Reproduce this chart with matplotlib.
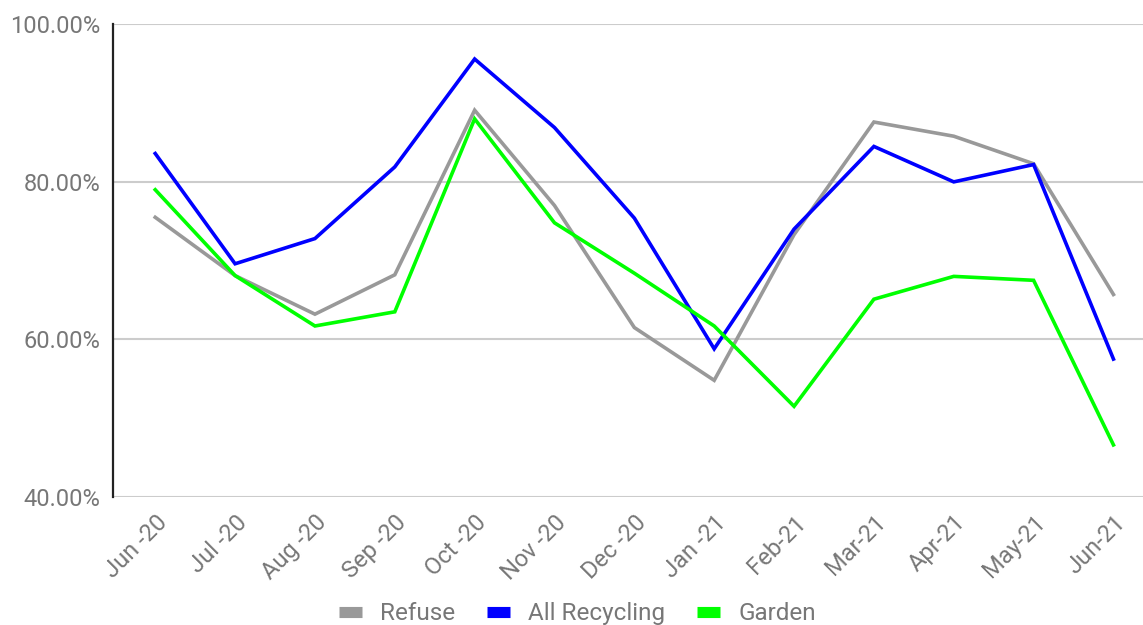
import numpy as np
import matplotlib.pyplot as plt
from matplotlib.lines import Line2D
from matplotlib.ticker import PercentFormatter

plt.rcParams['font.family'] = ['Roboto', 'DejaVu Sans']

months = ["Jun -20", "Jul -20", "Aug -20", "Sep -20", "Oct -20", "Nov -20", "Dec -20",
          "Jan -21", "Feb-21", "Mar-21", "Apr-21", "May-21", "Jun-21"]

refuse = [75.5, 68.1, 63.2, 68.2, 89.1, 77.0, 61.5, 54.8, 73.3, 87.6, 85.8, 82.3, 65.7]
all_recycling = [83.6, 69.6, 72.8, 81.9, 95.6, 86.9, 75.4, 58.8, 74.0, 84.5, 80.0, 82.2, 57.5]
garden = [79.0, 68.1, 61.7, 63.5, 88.0, 74.8, 68.4, 61.7, 51.5, 65.1, 68.0, 67.5, 46.6]

series = [("Refuse", refuse, "#999999"),
          ("All Recycling", all_recycling, "#0000ff"),
          ("Garden", garden, "#00ff00")]

fig = plt.figure(figsize=(11.43, 6.25), dpi=100)
ax = fig.add_axes([0.099, 0.205, 0.901, 0.756])

x = np.arange(len(months))
for name, vals, col in series:
    ax.plot(x, vals, color=col, lw=2.6, solid_joinstyle='miter', label=name, zorder=3)

ax.set_ylim(40, 100)
ax.set_xlim(-0.527, 12.37)
ax.set_yticks([40, 60, 80, 100])
ax.yaxis.set_major_formatter(PercentFormatter(decimals=2))
ax.grid(axis='y', color='#cccccc', lw=1.5, zorder=0)
ax.set_xticks(x)
ax.set_xticklabels(months, rotation=45, ha='right', va='top', rotation_mode='anchor')

for s in ['top', 'right', 'bottom']:
    ax.spines[s].set_visible(False)
ax.spines['left'].set_color('#222222')
ax.spines['left'].set_linewidth(1.6)
ax.tick_params(length=0, labelsize=17, labelcolor='#777777')
ax.tick_params(axis='y', pad=9)
ax.tick_params(axis='x', pad=10)

handles = [Line2D([], [], color=col, lw=8, solid_capstyle='butt') for _, _, col in series]
fig.legend(handles, [s[0] for s in series], loc='center', bbox_to_anchor=(0.505, 0.018),
           ncol=3, frameon=False, fontsize=17.5, labelcolor='#777777',
           handlelength=0.95, columnspacing=1.3, handletextpad=0.75)

fig.savefig("out.png", dpi=100)
